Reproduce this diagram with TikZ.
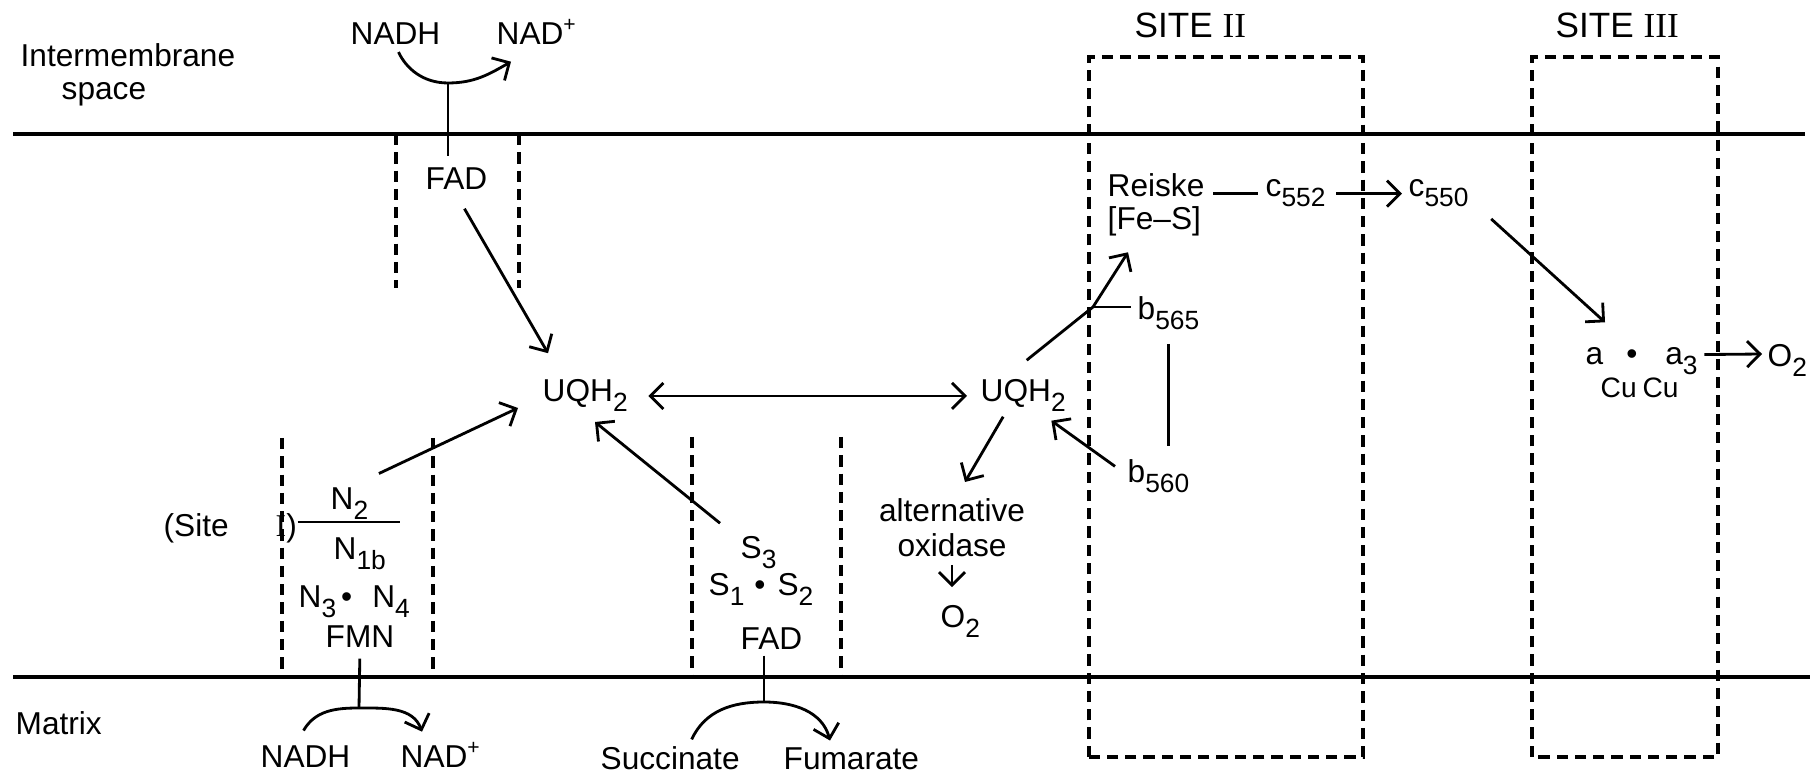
\documentclass[tikz,border=0pt]{standalone}
\usepackage{fontspec}
\setmainfont{Liberation Sans}
\newfontfamily\romfont{Liberation Serif}
\usetikzlibrary{arrows.meta}
\newcommand{\sub}[1]{\raisebox{-0.1cm}{\fontsize{7.5}{8}\selectfont #1}}
\newcommand{\rom}[1]{{\romfont #1}}

\begin{document}
\begin{tikzpicture}[
    >={Straight Barb[length=1.3mm,width=2.6mm]},
    lbl/.style={inner sep=0pt, anchor=base west, font=\fontsize{9}{10}\selectfont},
    sitelbl/.style={lbl, font=\fontsize{10}{12}\selectfont},
    memb/.style={line width=0.9pt},
    dsh/.style={line width=0.9pt, dash pattern=on 3.2pt off 2pt},
    lnk/.style={line width=0.8pt},
    arr/.style={line width=0.8pt, ->},
    dblarr/.style={line width=0.8pt, <->}]
    \useasboundingbox (0,0) rectangle (18.16,7.77);

    % compartments and membrane
    \node[lbl] (imA) at (0.20,7.10) {Intermembrane};
    \node[lbl] (imB) at (0.61,6.77) {space};
    \node[lbl] (mtx) at (0.15,0.42) {Matrix};
    \draw[memb] (0.13,6.43) -- (18.05,6.43);
    \draw[memb] (0.13,1.00) -- (18.10,1.00);

    % external NADH dehydrogenase
    \draw[dsh] (3.96,6.43) -- (3.96,4.89);
    \draw[dsh] (5.19,6.43) -- (5.19,4.89);
    \node[lbl] (nadhT) at (3.50,7.32) {NADH};
    \node[lbl] (nadT) at (4.96,7.32) {NAD\textsuperscript{+}};
    \node[lbl] (fadT) at (4.25,5.87) {FAD};
    \coordinate (jT) at (4.48,6.94);
    \draw[lnk, shorten <=0.12cm] (fadT.north -| jT) -- (jT);
    \draw[arr, shorten <=0.07cm] (nadhT.south) to[out=-65,in=180] (jT)
        to[out=0,in=-150] ([xshift=0.15cm,yshift=-0.16cm]nadT.south west);

    % ubiquinone pool
    \node[lbl] (uqL) at (5.42,3.75) {UQH\sub{2}};
    \node[lbl] (uqR) at (9.80,3.75) {UQH\sub{2}};
    \draw[arr] ([xshift=0.08cm,yshift=-0.18cm]fadT.south) -- ([xshift=0.06cm,yshift=0.26cm]uqL.north west);
    \draw[dblarr, shorten <=0.2cm, shorten >=0.13cm] (uqL.east) -- (uqR.west);

    % complex I
    \draw[dsh] (2.82,3.39) -- (2.82,1.00);
    \draw[dsh] (4.33,3.39) -- (4.33,1.00);
    \node[lbl] (site1) at (1.63,2.40) {(Site\hspace{0.47cm}\rom{I})};
    \node[lbl] (n2) at (3.30,2.67) {N\sub{2}};
    \node[lbl] (n1b) at (3.33,2.17) {N\sub{1b}};
    \node[lbl] (n34) at (2.98,1.69) {N\sub{3}\hspace{0.05cm}\textbullet\hspace{0.2cm}N\sub{4}};
    \node[lbl] (fmn) at (3.25,1.29) {FMN};
    \node[lbl] (nadhB) at (2.60,0.09) {NADH};
    \node[lbl] (nadB) at (4.00,0.09) {NAD\textsuperscript{+}};
    \coordinate (bar1) at (4.00,2.55);
    \coordinate (jB1) at (3.59,0.69);
    \draw[lnk] (site1.east |- bar1) -- (bar1);
    \draw[lnk, shorten <=0.1cm] (fmn.south) -- (jB1);
    \draw[arr] ([xshift=-0.02cm,yshift=0.15cm]nadhB.north) to[out=60,in=180] (jB1)
        to[out=0,in=110] ([xshift=0.22cm,yshift=0.10cm]nadB.north west);
    \draw[arr] ([xshift=0.10cm,yshift=0.14cm]n2.north east) -- ([xshift=-0.24cm,yshift=-0.06cm]uqL.base west);

    % complex II
    \draw[dsh] (6.92,3.40) -- (6.92,1.00);
    \draw[dsh] (8.41,3.40) -- (8.41,1.00);
    \node[lbl] (s3) at (7.40,2.18) {S\sub{3}};
    \node[lbl] (s12) at (7.08,1.81) {S\sub{1}\hspace{0.1cm}\textbullet\hspace{0.12cm}S\sub{2}};
    \node[lbl] (fadB) at (7.40,1.27) {FAD};
    \node[lbl] (succ) at (6.00,0.07) {Succinate};
    \node[lbl] (fum) at (7.83,0.07) {Fumarate};
    \coordinate (jB2) at (7.64,0.75);
    \draw[lnk, shorten <=0.05cm] (fadB.south -| jB2) -- (jB2);
    \draw[arr] ([xshift=0.215cm,yshift=0.07cm]succ.north) to[out=65,in=180] (jB2)
        to[out=0,in=105] ([xshift=0.47cm,yshift=0.07cm]fum.north west);
    \draw[arr] ([xshift=-0.20cm,yshift=0.13cm]s3.north west) -- ([xshift=0.53cm,yshift=-0.20cm]uqL.base west);

    % alternative oxidase
    \node[lbl, anchor=north, align=center] (altox) at (9.52,2.79) {alternative\\oxidase};
    \node[lbl] (o2A) at (9.40,1.49) {O\sub{2}};
    \draw[arr] ([xshift=-0.2cm,yshift=-0.04cm]uqR.south) -- ([xshift=0.13cm,yshift=0.16cm]altox.north);
    \draw[arr, shorten <=0.07cm, shorten >=0.18cm] (altox.south) -- (altox.south |- o2A.north);

    % site II
    \draw[dsh] (10.89,0.20) rectangle (13.63,7.20);
    \node[sitelbl] (site2) at (11.34,7.39) {SITE \rom{II}};
    \node[lbl] (reiske) at (11.07,5.80) {Reiske};
    \node[lbl] (fes) at (11.07,5.47) {[Fe--S]};
    \node[lbl] (c552) at (12.65,5.80) {c\sub{552}};
    \node[lbl] (c550) at (14.08,5.80) {c\sub{550}};
    \node[lbl] (b565) at (11.37,4.57) {b\sub{565}};
    \node[lbl] (b560) at (11.27,2.94) {b\sub{560}};
    \coordinate (jR) at (10.93,4.70);
    \draw[arr] ([xshift=0.035cm,yshift=0.19cm]uqR.north) -- (jR) -- ([xshift=0.21cm,yshift=-0.15cm]fes.south west);
    \draw[lnk, shorten >=0.06cm] (jR) -- (jR -| b565.west);
    \draw[lnk, shorten <=0.13cm, shorten >=0.13cm] (b565.south) -- (b565.south |- b560.north);
    \draw[arr] ([xshift=-0.12cm,yshift=-0.07cm]b560.north west) -- ([xshift=-0.15cm,yshift=-0.08cm]uqR.south east);
    \draw[lnk, shorten <=0.08cm, shorten >=0.07cm] (reiske.east |- c552.west) -- (c552.west);
    \draw[arr, shorten <=0.1cm, shorten >=0.06cm] (c552.east) -- (c550.west);

    % site III
    \draw[dsh] (15.32,0.20) rectangle (17.18,7.20);
    \node[sitelbl] (site3) at (15.55,7.39) {SITE \rom{III}};
    \node[lbl] (coxA) at (15.85,4.12) {a\hspace{0.23cm}\textbullet\hspace{0.28cm}a\sub{3}};
    \node[lbl, font=\fontsize{8}{9}\selectfont] (coxB) at (16.00,3.79) {Cu\hspace{0.06cm}Cu};
    \node[lbl] (o2R) at (17.67,4.10) {O\sub{2}};
    \draw[arr] ([xshift=0.22cm,yshift=-0.11cm]c550.south east) -- ([xshift=0.2cm,yshift=0.25cm]coxA.north west);
    \draw[arr, shorten <=0.06cm, shorten >=0.05cm] ([yshift=0.07cm]coxA.east) -- ([yshift=0.07cm]o2R.west);
\end{tikzpicture}
\end{document}
